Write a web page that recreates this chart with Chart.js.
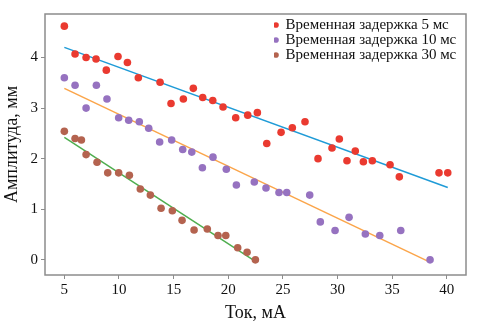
<!DOCTYPE html>
<html>
<head>
<meta charset="utf-8">
<script src="https://cdn.jsdelivr.net/npm/chart.js@4/dist/chart.umd.min.js"></script>
<style>
  html, body { margin: 0; padding: 0; background: #fff; }
  #box { width: 479px; height: 327px; }
</style>
</head>
<body>
<div id="box"><canvas id="myChart"></canvas></div>
<script>
//------Data------
const labels = ['Временная задержка 5 мс', 'Временная задержка 10 мс', 'Временная задержка 30 мс'];

const x5 = [5.0, 5.98, 6.99, 7.9, 8.84, 9.91, 10.77, 11.77, 13.76, 14.76, 15.89, 16.8, 17.66, 18.58, 19.52, 20.68, 21.78, 22.66, 23.52, 24.83, 25.86, 27.02, 28.21, 29.49, 30.16, 30.86, 31.62, 32.36, 33.18, 34.8, 35.65, 39.28, 40.08];
const y5 = [4.62, 4.07, 4.0, 3.97, 3.75, 4.02, 3.9, 3.6, 3.51, 3.09, 3.18, 3.39, 3.21, 3.15, 3.02, 2.81, 2.86, 2.91, 2.3, 2.52, 2.61, 2.73, 2.0, 2.21, 2.39, 1.96, 2.15, 1.94, 1.96, 1.88, 1.64, 1.72, 1.72];

const x10 = [5.0, 5.98, 6.99, 7.93, 8.9, 9.97, 10.89, 11.86, 12.72, 13.72, 14.82, 15.83, 16.66, 17.63, 18.6, 19.82, 20.74, 22.38, 23.45, 24.64, 25.35, 27.45, 28.42, 29.77, 31.05, 32.54, 33.86, 35.78, 38.46];
const y10 = [3.6, 3.45, 3.0, 3.45, 3.18, 2.81, 2.76, 2.73, 2.6, 2.33, 2.37, 2.18, 2.13, 1.82, 2.03, 1.79, 1.48, 1.54, 1.42, 1.33, 1.33, 1.28, 0.75, 0.58, 0.84, 0.51, 0.48, 0.58, 0.0];

const x30 = [5.0, 5.98, 6.56, 6.99, 7.99, 8.97, 9.97, 10.95, 11.95, 12.87, 13.85, 14.88, 15.77, 16.87, 18.08, 19.06, 19.77, 20.86, 21.72, 22.48];
const y30 = [2.54, 2.4, 2.37, 2.08, 1.93, 1.72, 1.72, 1.67, 1.4, 1.28, 1.02, 0.97, 0.78, 0.59, 0.61, 0.48, 0.48, 0.24, 0.15, 0.0];

// fitted lines (end points)
const fit5x = [5, 40.08], fit5y = [4.2, 1.43];
const fit10x = [5, 38.4], fit10y = [3.39, -0.04];
const fit30x = [5, 22.48], fit30y = [2.42, -0.03];

const xTicks = [5, 10, 15, 20, 25, 30, 35, 40];
const yTicks = [0, 1, 2, 3, 4];
//--------------

const serif = "'Liberation Serif', 'Times New Roman', serif";
const frameColor = '#8c8c8c';

function pts(xs, ys) {
  return xs.map((x, i) => ({ x: x, y: ys[i] }));
}

function scatterSet(label, xs, ys, color) {
  return {
    type: 'scatter',
    label: label,
    data: pts(xs, ys),
    backgroundColor: color,
    borderWidth: 0,
    pointRadius: 3.8,
    pointHoverRadius: 3.8,
    order: 1
  };
}

function lineSet(xs, ys, color) {
  return {
    type: 'line',
    label: '',
    data: pts(xs, ys),
    borderColor: color,
    borderWidth: 1.5,
    pointRadius: 0,
    fill: false,
    order: 2
  };
}

//---frame round the plot
const framePlugin = {
  id: 'frame',
  afterDraw(chart) {
    const a = chart.chartArea;
    const ctx = chart.ctx;
    ctx.save();
    ctx.strokeStyle = frameColor;
    ctx.lineWidth = 1.5;
    ctx.strokeRect(a.left, a.top, a.right - a.left, a.bottom - a.top);
    ctx.restore();
  }
};

//---legend inside the plot, top right
const legendPlace = {
  id: 'legendPlace',
  beforeInit(chart) {
    const legend = chart.legend;
    const fit = legend.fit;
    legend.fit = function () {
      fit.call(this);
      this.width = 0;
    };
  },
  afterLayout(chart) {
    const legend = chart.legend;
    legend.left = 274;
    legend.right = 479;
    legend.top = 17.5;
    legend.bottom = 80;
    legend.width = 205;
    legend.height = 62.5;
  }
};

const ctx = document.getElementById('myChart').getContext('2d');

new Chart(ctx, {
  data: {
    datasets: [
      lineSet(fit5x, fit5y, '#1f9bd7'),
      lineSet(fit10x, fit10y, '#fba54a'),
      lineSet(fit30x, fit30y, '#4fae4f'),
      scatterSet(labels[0], x5, y5, '#ea3a30'),
      scatterSet(labels[1], x10, y10, '#9672c0'),
      scatterSet(labels[2], x30, y30, '#b4634f')
    ]
  },
  options: {
    responsive: true,
    maintainAspectRatio: false,
    animation: false,
    layout: { padding: { top: 14, right: 13, left: 0, bottom: 0 } },
    plugins: {
      legend: {
        position: 'right',
        align: 'start',
        labels: {
          usePointStyle: true,
          pointStyle: 'circle',
          boxWidth: 4,
          boxHeight: 4,
          padding: 0,
          color: '#111',
          font: { family: serif, size: 15 },
          filter: (item) => item.text !== ''
        }
      },
      tooltip: { enabled: false }
    },
    scales: {
      x: {
        type: 'linear',
        min: 3.23,
        max: 41.75,
        afterBuildTicks: (scale) => { scale.ticks = xTicks.map(v => ({ value: v })); },
        afterFit: (scale) => { scale.height = 52; },
        grid: { drawOnChartArea: false, tickLength: 4, tickColor: frameColor },
        border: { display: false },
        ticks: { color: '#111', padding: 2, maxRotation: 0, font: { family: serif, size: 15 } },
        title: {
          display: true,
          text: 'Ток, мА',
          color: '#111',
          padding: { top: 0, bottom: 3 },
          font: { family: serif, size: 18 }
        }
      },
      y: {
        type: 'linear',
        min: -0.3,
        max: 4.86,
        afterBuildTicks: (scale) => { scale.ticks = yTicks.map(v => ({ value: v })); },
        afterFit: (scale) => { scale.width = 45; },
        grid: { drawOnChartArea: false, tickLength: 4, tickColor: frameColor },
        border: { display: false },
        ticks: { color: '#111', padding: 3, font: { family: serif, size: 15 } },
        title: {
          display: true,
          text: 'Амплитуда, мм',
          color: '#111',
          padding: { top: 1, bottom: 0 },
          font: { family: serif, size: 18 }
        }
      }
    }
  },
  plugins: [framePlugin, legendPlace]
});
</script>
</body>
</html>
